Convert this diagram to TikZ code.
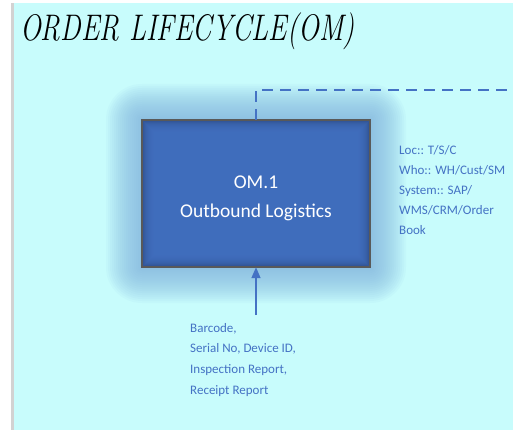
\documentclass[tikz,border=0pt]{standalone}
\usepackage{fontspec}
\newfontfamily\calib{Carlito}
\usetikzlibrary{arrows.meta}
\definecolor{bgcyan}{HTML}{C8FCFC}
\definecolor{boxblue}{HTML}{4472C4}
\definecolor{boxdark}{HTML}{2F5090}
\definecolor{glowblue}{HTML}{7FB2DE}
\definecolor{txtblue}{HTML}{4472C4}
\tikzset{
  lbl/.style={font=\calib\fontsize{13}{20}\selectfont, text=txtblue, align=left, inner sep=0pt},
}
\begin{document}
\begin{tikzpicture}[x=1pt,y=-1pt]
\useasboundingbox (0,0) rectangle (513,430);
\fill[white] (0,0) rectangle (513,430);
\fill[gray!35] (11,3) rectangle (14,430);
\fill[bgcyan] (14,3) rectangle (513,430);
% title
\node[anchor=west, inner sep=0pt, xscale=0.75, font=\fontsize{37}{40}\selectfont\itshape] (title) at (20,31) {ORDER LIFECYCLE(OM)};
% glow
\foreach \i in {36,34,...,2} {
  \fill[glowblue, opacity=0.065, rounded corners=\i pt] (142-\i,120-\i) rectangle (370+\i,267+\i);
}
% box with inner shading
\fill[boxdark] (142,120) rectangle (370,267);
\foreach \i in {1,2,...,12} {
  \fill[boxblue, opacity=0.18] (142+\i,120+\i) rectangle (370-\i,267-\i);
}
\draw[gray!70!black, line width=1.4pt] (142,120) rectangle (370,267);
\node[inner sep=0pt, minimum width=228pt, minimum height=147pt, text=white] (om) at (256,193.5) {};
\node[inner sep=0pt, align=center, text=white,
      font=\calib\fontsize{19.5}{29}\selectfont] (omtext) at (256,198) {OM.1\\Outbound Logistics};
% dashed link
\coordinate (c1) at (256,90);
\coordinate (c2) at (513,90);
\draw[txtblue, line width=1.6pt, dash pattern=on 11pt off 7pt] (om.north) -- (c1) -- (c2);
% labels
\node[lbl, anchor=north west] (info) at (399,145) {Loc:: T/S/C\\Who:: WH/Cust/SM\\System:: SAP/\\WMS/CRM/Order\\Book};
\node[lbl, anchor=north west, font=\calib\fontsize{13}{20.7}\selectfont] (inp) at (190,323) {Barcode,\\Serial No, Device ID,\\Inspection Report,\\Receipt Report};
\coordinate (a0) at (256,315);
\draw[txtblue, line width=1.6pt, -{Triangle[length=11pt,width=9pt]}] (a0) -- (om.south);
\end{tikzpicture}
\end{document}
